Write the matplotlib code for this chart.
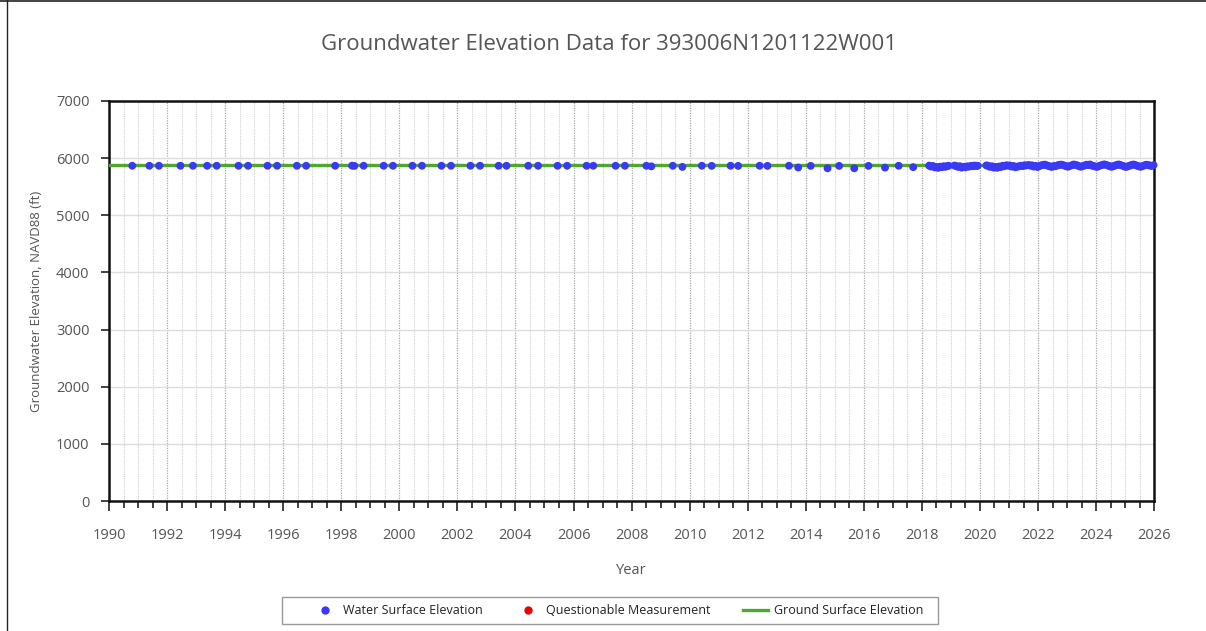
import matplotlib
matplotlib.use('Agg')
import matplotlib.pyplot as plt
from matplotlib.lines import Line2D
from matplotlib.patches import Rectangle
from matplotlib.ticker import MultipleLocator

# Data #######################################################
title = 'Groundwater Elevation Data for 393006N1201122W001'
ground_elev = 5876  # ft

# Water surface elevation measurements (decimal year, ft)
wse_year = [
    1990.80, 1991.39, 1991.72, 1992.46, 1992.89, 1993.38, 1993.71,
    1994.46, 1994.79, 1995.46, 1995.79, 1996.47, 1996.79, 1997.79,
    1998.37, 1998.45, 1998.77, 1999.46, 1999.78, 2000.45, 2000.78,
    2001.45, 2001.78, 2002.45, 2002.78, 2003.42, 2003.69, 2004.44,
    2004.78, 2005.45, 2005.78, 2006.45, 2006.68, 2007.45, 2007.77,
    2008.51, 2008.68, 2009.42, 2009.75, 2010.42, 2010.76, 2011.41,
    2011.67, 2012.41, 2012.68, 2013.42, 2013.74, 2014.17, 2014.75,
    2015.15, 2015.67, 2016.16, 2016.73, 2017.20, 2017.70,
    2018.25, 2018.31, 2018.38, 2018.44, 2018.50, 2018.56, 2018.63,
    2018.69, 2018.75, 2018.81, 2018.88, 2018.92,
    2019.12, 2019.18, 2019.25, 2019.31, 2019.37, 2019.44, 2019.50,
    2019.56, 2019.62, 2019.69, 2019.75, 2019.81, 2019.87, 2019.92,
    2020.22, 2020.28, 2020.34, 2020.41, 2020.47, 2020.53, 2020.59,
    2020.66, 2020.72, 2020.78, 2020.84, 2020.91, 2020.97, 2021.03,
    2021.09, 2021.16, 2021.22, 2021.28, 2021.34, 2021.41, 2021.47,
    2021.53, 2021.58,
    2021.67, 2021.73, 2021.79, 2021.85, 2021.92, 2021.98, 2022.04,
    2022.10, 2022.17, 2022.23, 2022.29, 2022.35, 2022.42, 2022.48,
    2022.54, 2022.60, 2022.67, 2022.73, 2022.79, 2022.85, 2022.92,
    2022.98, 2023.04, 2023.10, 2023.17, 2023.23, 2023.29, 2023.35,
    2023.42, 2023.48, 2023.54, 2023.60, 2023.67, 2023.73, 2023.79,
    2023.85, 2023.92, 2023.98, 2024.04, 2024.10, 2024.17, 2024.23,
    2024.29, 2024.35, 2024.42, 2024.48, 2024.54, 2024.60, 2024.67,
    2024.73, 2024.79, 2024.85, 2024.92, 2024.98, 2025.04, 2025.10,
    2025.17, 2025.23, 2025.29, 2025.35, 2025.42, 2025.48, 2025.54,
    2025.60, 2025.67, 2025.73, 2025.79, 2025.85, 2025.92, 2025.98,
]
wse_elev = [
    5866, 5866, 5866, 5866, 5866, 5866, 5866,
    5866, 5866, 5866, 5866, 5866, 5866, 5866,
    5868, 5864, 5866, 5866, 5866, 5866, 5866,
    5866, 5866, 5866, 5866, 5866, 5866, 5866,
    5866, 5866, 5866, 5866, 5866, 5866, 5866,
    5866, 5856, 5866, 5846, 5866, 5864, 5866,
    5864, 5866, 5864, 5866, 5836, 5864, 5822,
    5864, 5822, 5864, 5834, 5866, 5842,
    5868, 5852, 5862, 5838, 5846, 5830, 5850,
    5842, 5858, 5848, 5862, 5866,
    5870, 5862, 5846, 5858, 5834, 5848, 5840,
    5856, 5850, 5864, 5858, 5870, 5862, 5866,
    5872, 5866, 5848, 5858, 5834, 5846, 5830,
    5852, 5844, 5866, 5858, 5874, 5868, 5870,
    5852, 5862, 5840, 5850, 5856, 5866, 5860,
    5874, 5870,
    5880, 5868, 5874, 5852, 5864, 5844, 5860,
    5872, 5880, 5886, 5876, 5864, 5854, 5846,
    5862, 5858, 5872, 5882, 5886, 5880, 5868,
    5856, 5850, 5864, 5876, 5888, 5882, 5872,
    5858, 5848, 5860, 5870, 5884, 5878, 5888,
    5870, 5860, 5852, 5846, 5862, 5874, 5884,
    5890, 5880, 5868, 5856, 5848, 5860, 5872,
    5884, 5888, 5876, 5866, 5852, 5846, 5858,
    5870, 5882, 5888, 5880, 5864, 5856, 5848,
    5860, 5874, 5884, 5880, 5870, 5862, 5878,
]

# Questionable measurements (none in this record)
qm_year = []
qm_elev = []

x_range = [1990, 2026]
y_range = [0, 7000]

# Figure ######################################################
plt.rcParams['font.family'] = ['Open Sans', 'DejaVu Sans']
txt_color = '#555555'
blue = '#3a3af5'
green = '#4fa82b'

fig = plt.figure(figsize=(12.06, 6.31), dpi=100)
ax = fig.add_axes([0.0904, 0.206, 0.8666, 0.634])

# ground surface line
ax.plot(x_range, [ground_elev, ground_elev], color=green, lw=2.4,
        zorder=3)
ax.scatter(wse_year, wse_elev, s=32, color=blue, edgecolors='none',
           zorder=4, clip_on=False)
ax.scatter(qm_year, qm_elev, s=32, color='#ee0000', edgecolors='none',
           zorder=4)

ax.set_xlim(x_range)
ax.set_ylim(y_range)
ax.xaxis.set_major_locator(MultipleLocator(2))
ax.xaxis.set_minor_locator(MultipleLocator(0.5))
ax.yaxis.set_major_locator(MultipleLocator(1000))

# grids
ax.grid(axis='y', which='major', color='#dddddd', lw=1, ls='-')
ax.grid(axis='x', which='minor', color='#cfcfcf', lw=0.8, ls=(0, (1, 1)))
ax.grid(axis='x', which='major', color='#aaaaaa', lw=0.9, ls=(0, (1, 1)))
ax.set_axisbelow(True)

for sp in ax.spines.values():
    sp.set_linewidth(1.8)
    sp.set_color('#111111')

ax.tick_params(axis='y', which='major', length=6, width=1.2,
               color='#222222', labelcolor=txt_color, labelsize=10.5, pad=8)
ax.tick_params(axis='x', which='major', length=7, width=1.2,
               color='#222222', labelcolor=txt_color, labelsize=10.5,
               pad=12.5)
ax.tick_params(axis='x', which='minor', length=5, width=1.2,
               color='#222222')

ax.set_xlabel('Year', color=txt_color, fontsize=10.5, labelpad=14)
ax.set_ylabel('Groundwater Elevation, NAVD88 (ft)', color=txt_color,
              fontsize=9.5, labelpad=9)
fig.text(0.505, 0.930, title, ha='center', va='center', color=txt_color,
         fontsize=16)

handles = [
    Line2D([], [], ls='none', marker='o', ms=6, color=blue,
           mec='none', label='Water Surface Elevation'),
    Line2D([], [], ls='none', marker='o', ms=6, color='#ee0000',
           mec='none', label='Questionable Measurement'),
    Line2D([], [], color=green, lw=2.4, label='Ground Surface Elevation'),
]
fig.legend(handles=handles, loc='center', ncol=3,
           bbox_to_anchor=(0.5125, 0.0325), frameon=False, fontsize=9,
           handlelength=2.0, handletextpad=0.45, columnspacing=2.6,
           borderpad=0, labelcolor='#222222')
# legend box
fig.add_artist(Rectangle((282 / 1206, 1 - 624 / 631), 656 / 1206,
                         27 / 631, transform=fig.transFigure,
                         fill=False, edgecolor='#999999', lw=1.0))

# page border on the top and left edges
fig.add_artist(Line2D([0, 1], [0.998, 0.998], color='#222222', lw=1.2,
                      transform=fig.transFigure))
fig.add_artist(Line2D([0.006, 0.006], [0, 1], color='#222222', lw=1.0,
                      transform=fig.transFigure))

fig.savefig('out.png', dpi=100)
